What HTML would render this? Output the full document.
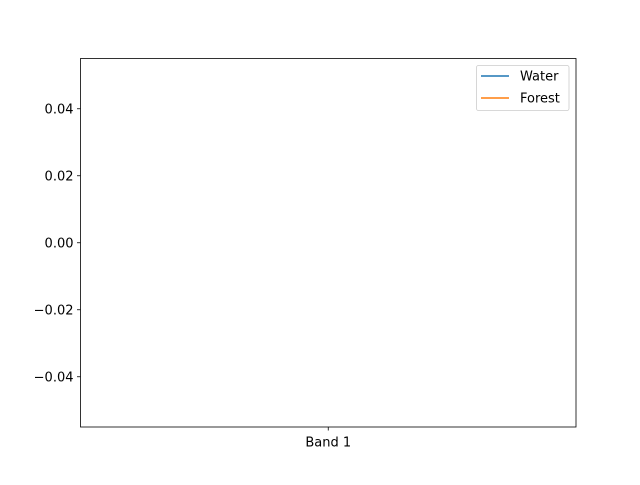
<!DOCTYPE html>
<html><head><meta charset="utf-8"><style>
html,body{margin:0;padding:0;background:#fff;}
svg text{font-family:"DejaVu Sans","Liberation Sans",sans-serif;font-size:13px;fill:#000;}
</style></head><body>
<svg id="chart" width="640" height="480" viewBox="0 0 640 480">
<rect x="0" y="0" width="640" height="480" fill="#fff"/>
<g id="plot"></g>
<rect x="80.5" y="58.5" width="495.5" height="368.5" fill="none" stroke="#000" stroke-width="0.8"/>
<g id="yticks"></g>
<g id="xticks"></g>
<g>
<rect x="476.5" y="65.5" width="92.5" height="45" rx="2" fill="#fff" fill-opacity="0.8" stroke="#ccc" stroke-width="0.8"/>
<g>
<line x1="481" y1="76" x2="509" y2="76" stroke="#1f77b4" stroke-width="1.5"/>
<text x="520" y="80.5">Water</text></g>
<g>
<line x1="481" y1="98" x2="509" y2="98" stroke="#ff7f0e" stroke-width="1.5"/>
<text x="520" y="102.5">Forest</text></g>
</g>
</svg>
<script>
const categories = ["Band 1"];
const waterValues = [0];
const forestValues = [0];
const yTickValues = [0.04, 0.02, 0.00, -0.02, -0.04];
const yTickLabels = ["0.04", "0.02", "0.00", "\u22120.02", "\u22120.04"];

const NS = "http://www.w3.org/2000/svg";
const L = 80.5, R = 576, T = 58.5, B = 427;
const yMin = -0.055, yMax = 0.055;
function yScale(v){ return B - (v - yMin) / (yMax - yMin) * (B - T); }
function xScale(i){ return categories.length === 1 ? (L + R) / 2 : L + (R - L) * (0.045 + 0.91 * i / (categories.length - 1)); }

const yt = document.getElementById('yticks');
yTickValues.forEach((v, i) => {
  const y = yScale(v);
  const ln = document.createElementNS(NS, 'line');
  ln.setAttribute('x1', L - 3.5); ln.setAttribute('x2', L);
  ln.setAttribute('y1', y); ln.setAttribute('y2', y);
  ln.setAttribute('stroke', '#000'); ln.setAttribute('stroke-width', '0.8');
  
  
  yt.appendChild(ln);
  const tx = document.createElementNS(NS, 'text');
  tx.setAttribute('x', L - 7); tx.setAttribute('y', y + 4.5);
  tx.setAttribute('text-anchor', 'end');
  tx.textContent = yTickLabels[i];
  
  
  yt.appendChild(tx);
});

const xt = document.getElementById('xticks');
categories.forEach((c, i) => {
  const x = xScale(i);
  const ln = document.createElementNS(NS, 'line');
  ln.setAttribute('x1', x); ln.setAttribute('x2', x);
  ln.setAttribute('y1', B); ln.setAttribute('y2', B + 3.5);
  ln.setAttribute('stroke', '#000'); ln.setAttribute('stroke-width', '0.8');
  
  
  xt.appendChild(ln);
  const tx = document.createElementNS(NS, 'text');
  tx.setAttribute('x', x); tx.setAttribute('y', B + 19.5);
  tx.setAttribute('text-anchor', 'middle');
  tx.textContent = c;
  
  
  xt.appendChild(tx);
});

const plot = document.getElementById('plot');
[[waterValues, '#1f77b4', 'water-line'], [forestValues, '#ff7f0e', 'forest-line']].forEach(([vals, col, name]) => {
  const pl = document.createElementNS(NS, 'polyline');
  pl.setAttribute('points', vals.map((v, i) => xScale(i) + ',' + yScale(v)).join(' '));
  pl.setAttribute('fill', 'none'); pl.setAttribute('stroke', col); pl.setAttribute('stroke-width', '1.5');
  
  
  plot.appendChild(pl);
});
</script>
</body></html>
